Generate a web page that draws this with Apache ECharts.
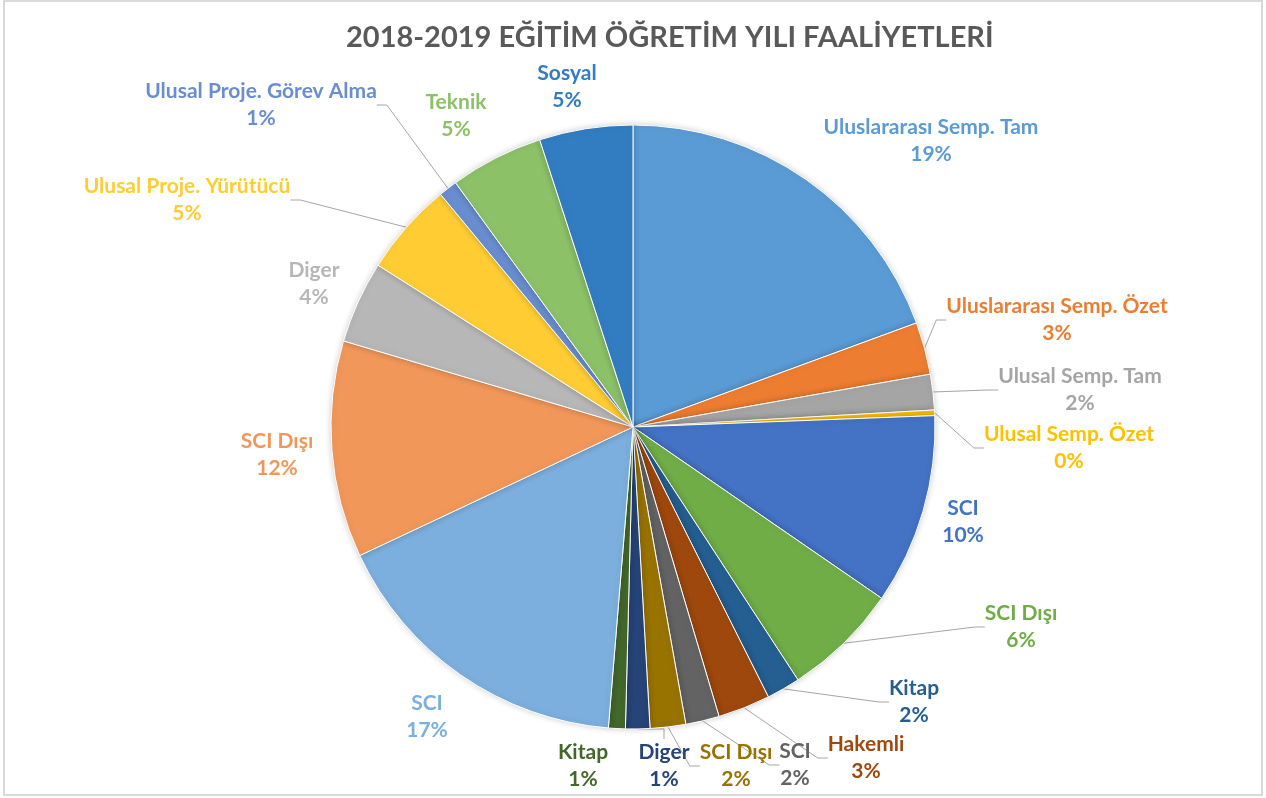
<!DOCTYPE html>
<html>
<head>
<meta charset="utf-8">
<title>2018-2019 Eğitim Öğretim Yılı Faaliyetleri</title>
<script src="https://cdn.jsdelivr.net/npm/echarts@6/dist/echarts.min.js"></script>
<style>
  html, body { margin: 0; padding: 0; background: #fff; }
  #chart { width: 1266px; height: 798px; }
</style>
</head>
<body>
<div id="chart"></div>
<script>
// slice names, clockwise from 12 o'clock
const names = [
  'Uluslararası Semp. Tam', 'Uluslararası Semp. Özet', 'Ulusal Semp. Tam', 'Ulusal Semp. Özet',
  'SCI', 'SCI Dışı', 'Kitap', 'Hakemli', 'SCI', 'SCI Dışı', 'Diger', 'Kitap',
  'SCI', 'SCI Dışı', 'Diger', 'Ulusal Proje. Yürütücü', 'Ulusal Proje. Görev Alma', 'Teknik', 'Sosyal'
];
// shares (percent)
const values = [
  19.4, 2.8, 1.9, 0.3,
  10.2, 6.2, 1.8, 2.8, 1.8, 1.9, 1.3, 0.9,
  16.7, 11.6, 4.4, 5.0, 1.0, 5.0, 5.0
];
const colors = [
  '#5B9BD5', '#ED7D31', '#A5A5A5', '#FFC000',
  '#4472C4', '#70AD47', '#255E91', '#9E480E', '#636363', '#997300', '#264478', '#43682B',
  '#7CAFDD', '#F1975A', '#B7B7B7', '#FFCD33', '#698ED0', '#8CC168', '#327DC2'
];

// where each data label sits (label centre), as placed in the original chart
const labelPos = [
  [931, 141], [1057, 320], [1080, 390], [1069, 448],
  [963, 522], [1021, 627], [914, 702], [866, 758], [795, 765], [736, 766], [664, 766], [583, 766],
  [427, 717], [277, 455], [314, 284], [187, 200], [261, 105], [456, 116], [567, 87]
];
// slices whose label is joined to the slice by a leader line
const withLine = [false, true, true, true, false, true, true, true, true, true, true, false,
  false, false, false, true, true, false, false];

const chart = echarts.init(document.getElementById('chart'));

const data = names.map((n, i) => ({
  name: n,
  value: values[i],
  itemStyle: { color: colors[i] },
  labelLine: { show: withLine[i] }
}));

const option = {
  animation: false,
  backgroundColor: '#fff',
  title: {
    text: '2018-2019 EĞİTİM ÖĞRETİM YILI FAALİYETLERİ',
    left: 341,
    top: 18,
    textStyle: {
      fontFamily: 'Lato',
      fontSize: 29,
      fontWeight: 'bold',
      color: '#595959'
    }
  },
  graphic: [{
    type: 'rect',
    shape: { x: 4, y: 1, width: 1258, height: 794 },
    style: { fill: 'none', stroke: '#D9D9D9', lineWidth: 2 },
    silent: true
  }],
  series: [{
    type: 'pie',
    center: ['50%', 427],
    radius: 302,
    startAngle: 90,
    clockwise: true,
    avoidLabelOverlap: false,
    data: data,
    itemStyle: {
      borderColor: '#fff',
      borderWidth: 1,
      shadowBlur: 6,
      shadowColor: 'rgba(0,0,0,0.18)'
    },
    label: {
      show: true,
      position: 'outside',
      color: 'inherit',
      fontFamily: 'Lato',
      fontWeight: 'bold',
      fontSize: 21,
      lineHeight: 27,
      formatter: p => '{n|' + p.name + '}\n{n|' + Math.round(p.percent) + '%}',
      rich: {
        n: { align: 'center', fontFamily: 'Lato', fontWeight: 'bold', fontSize: 21, lineHeight: 27 }
      }
    },
    labelLine: {
      length: 10,
      length2: 10,
      minTurnAngle: 90,
      lineStyle: { color: '#A6A6A6', width: 1 }
    },
    labelLayout: p => ({
      x: labelPos[p.dataIndex][0],
      y: labelPos[p.dataIndex][1],
      align: 'center',
      verticalAlign: 'middle'
    }),
    emphasis: { disabled: true }
  }]
};

chart.setOption(option);
window.addEventListener('resize', () => chart.resize());
</script>
</body>
</html>
